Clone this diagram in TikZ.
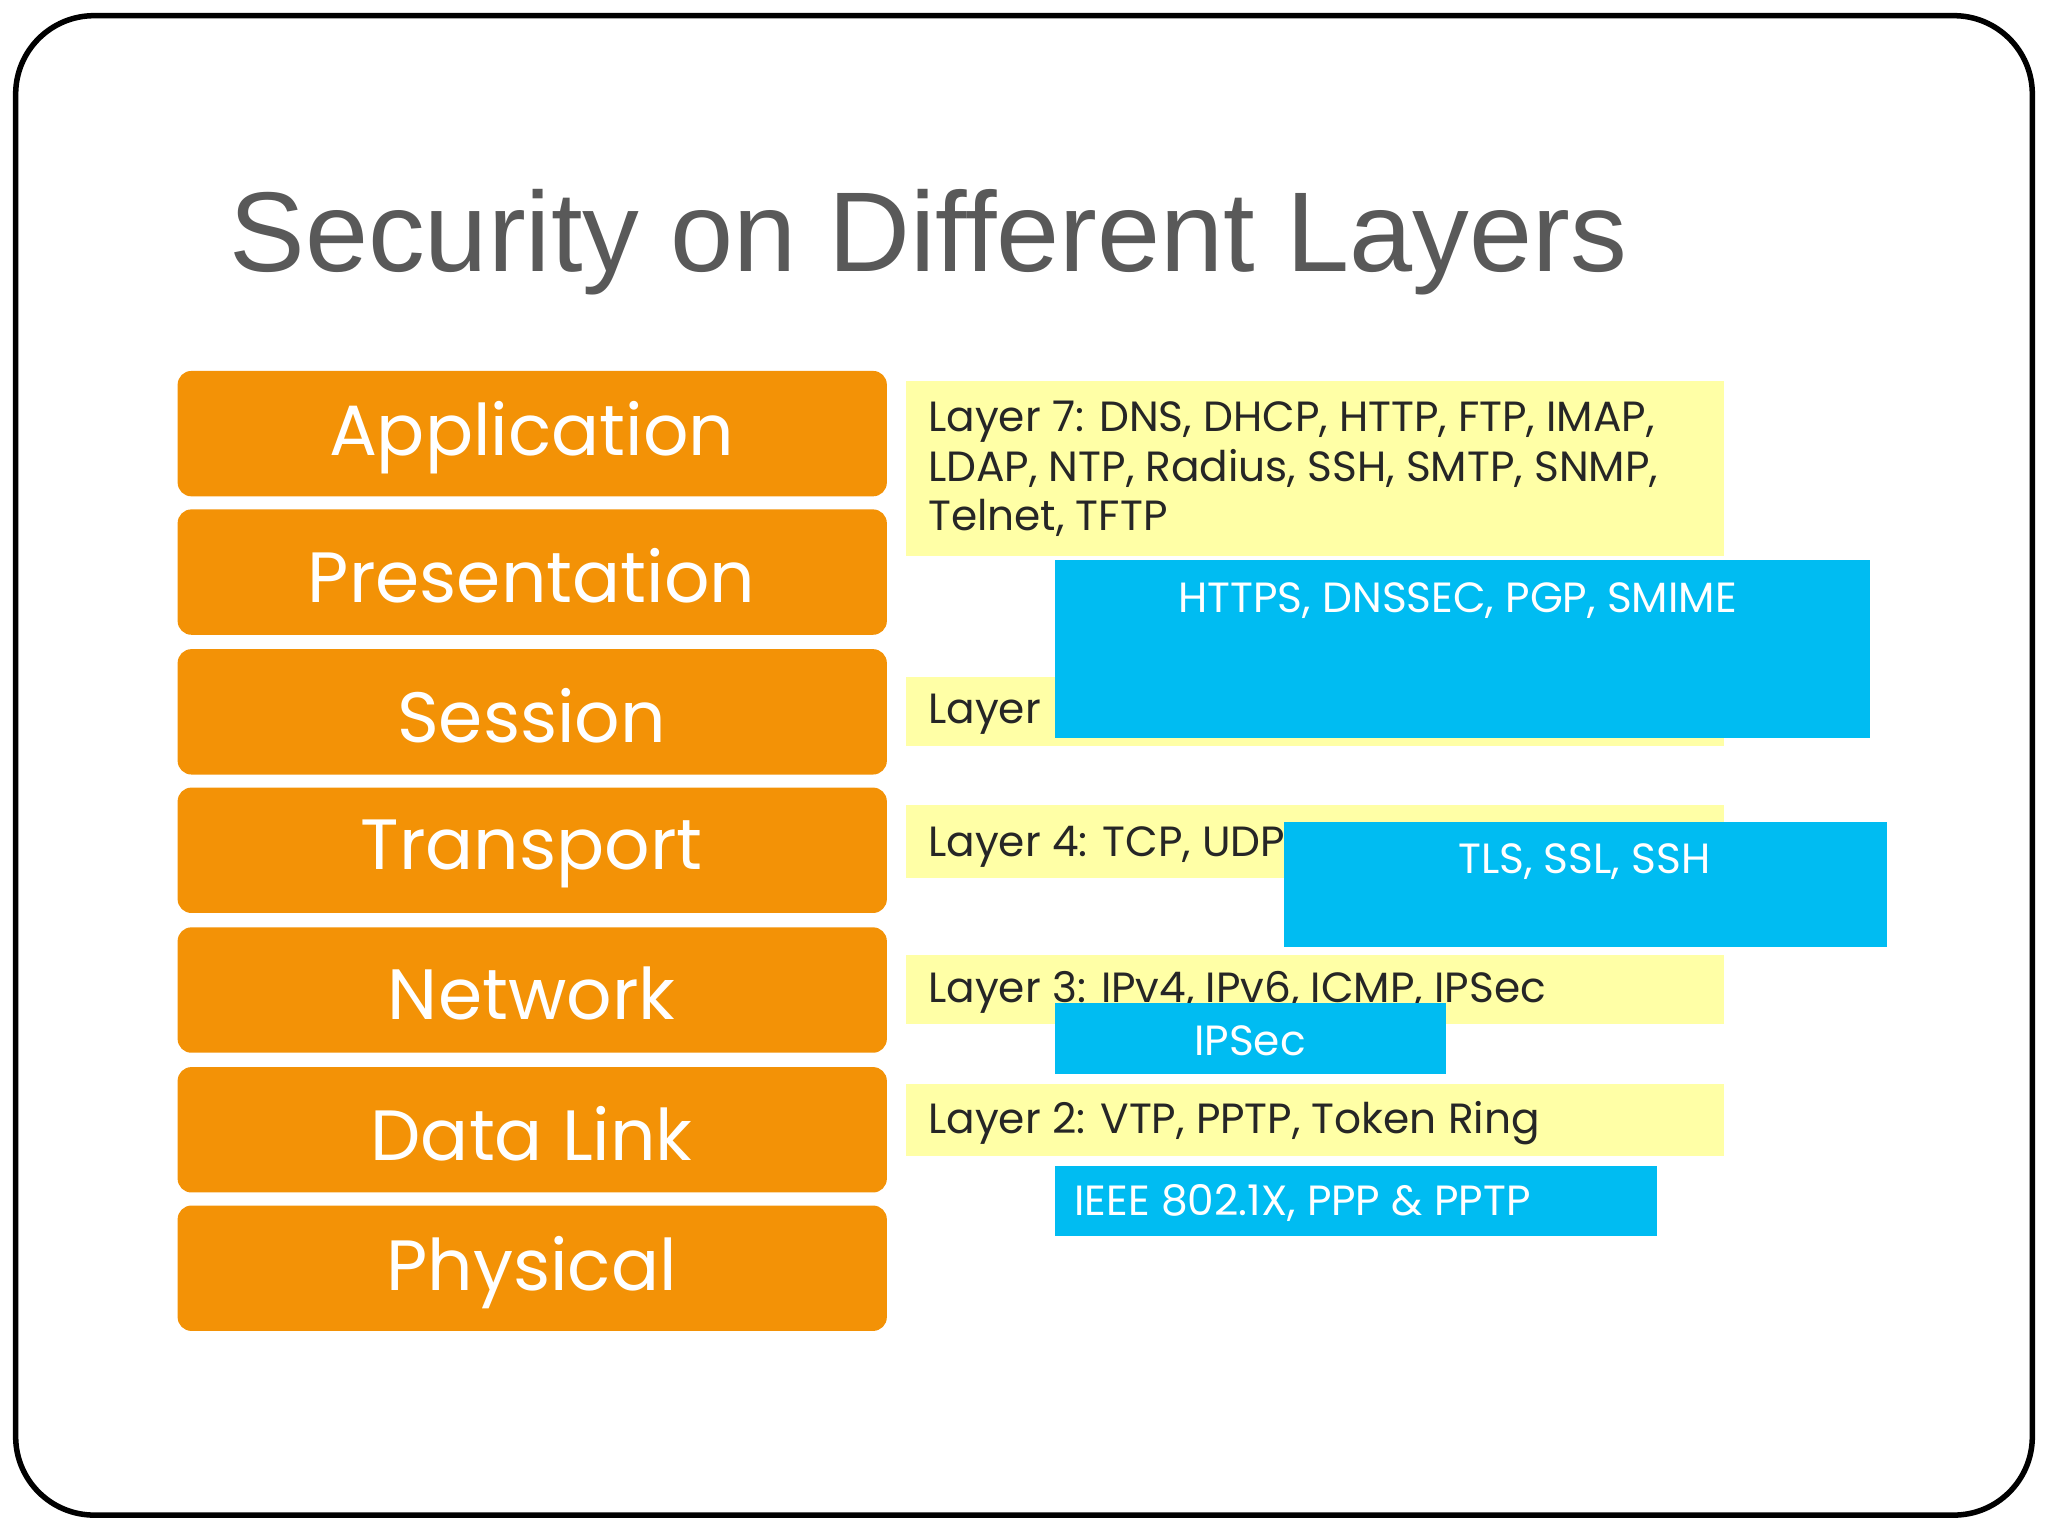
\documentclass[tikz,border=0pt]{standalone}
\usepackage{fontspec}
\setmainfont{Poppins}
\newfontfamily\titlefont{Liberation Sans}
\begin{document}
\begin{tikzpicture}[x=0.01cm,y=-0.01cm,
  ytext/.style={anchor=west, font=\fontsize{9.2}{10.8}\selectfont, text=black!85, align=left, inner sep=0},
  btext/.style={font=\fontsize{9.2}{12}\selectfont, text=white, inner sep=0}]
\useasboundingbox (0,0) rectangle (1568,1176);
\definecolor{lay}{HTML}{F39206}
\definecolor{blu}{HTML}{00BCF2}
\definecolor{yel}{HTML}{FFFFA6}
\draw[line width=1.2pt, rounded corners=0.6cm] (12,12) rectangle (1556,1160);
\node[anchor=base west, inner sep=0, text=black!65, font=\titlefont\fontsize{24.7}{30}\selectfont] (title) at (175,208) {Security on Different Layers};
\foreach \n/\t/\y in {app/Application/284, pre/Presentation/390, ses/Session/497, tra/Transport/603, net/Network/710, dl/Data Link/817, phy/Physical/923}{
  \fill[lay, rounded corners=3pt] (136,\y) rectangle (679,\y+96);
  \node[text=white, font=\fontsize{15.5}{18}\selectfont] (\n) at (407,\y+51) {\t};
}
% yellow boxes
\fill[yel] (694,292) rectangle (1320,426);
\node[ytext] (l7) at (710,359) {Layer 7: DNS, DHCP, HTTP, FTP, IMAP,\\LDAP, NTP, Radius, SSH, SMTP, SNMP,\\Telnet, TFTP};
\fill[yel] (694,518) rectangle (1320,571);
\node[ytext] (l5) at (710,547) {Layer};
\fill[yel] (694,616) rectangle (1320,672);
\node[ytext] (l4) at (710,648) {Layer 4: TCP, UDP};
\fill[yel] (694,731) rectangle (1320,784);
\node[ytext] (l3) at (710,760) {Layer 3: IPv4, IPv6, ICMP, IPSec};
\fill[yel] (694,830) rectangle (1320,885);
\node[ytext] (l2) at (710,860) {Layer 2: VTP, PPTP, Token Ring};
% blue boxes
\fill[blu] (808,429) rectangle (1432,565);
\node[btext] (b5) at (1116,460) {HTTPS, DNSSEC, PGP, SMIME};
\fill[blu] (983,629) rectangle (1445,725);
\node[btext] (b4) at (1213,660) {TLS, SSL, SSH};
\fill[blu] (808,768) rectangle (1107,822);
\node[btext] (b3) at (957,797) {IPSec};
\fill[blu] (808,893) rectangle (1269,946);
\node[btext, anchor=west] (b2) at (822,921) {IEEE 802.1X, PPP \& PPTP};
\end{tikzpicture}
\end{document}
